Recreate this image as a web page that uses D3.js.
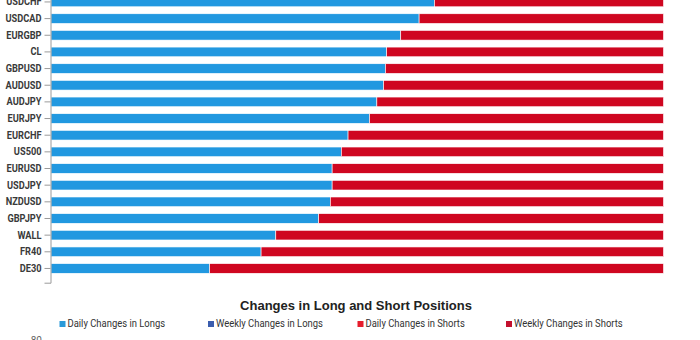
<!DOCTYPE html>
<html>
<head>
<meta charset="utf-8">
<script src="https://cdn.jsdelivr.net/npm/d3@7/dist/d3.min.js"></script>
<style>
  html, body { margin: 0; padding: 0; background: #fff; }
  svg { display: block; }
</style>
</head>
<body>
<svg id="chart" width="700" height="340"></svg>
<script>
// Net positioning per instrument (% of traders long vs short)
const instruments = ["USDCHF", "USDCAD", "EURGBP", "CL", "GBPUSD", "AUDUSD", "AUDJPY", "EURJPY",
  "EURCHF", "US500", "EURUSD", "USDJPY", "NZDUSD", "GBPJPY", "WALL", "FR40", "DE30"];
const longPct  = [62.6, 60.1, 57.1, 54.8, 54.6, 54.3, 53.2, 52.0, 48.5, 47.4, 45.9, 45.9, 45.6, 43.7, 36.7, 34.3, 25.9];
const shortPct = [37.4, 39.9, 42.9, 45.2, 45.4, 45.7, 46.8, 48.0, 51.5, 52.6, 54.1, 54.1, 54.4, 56.3, 63.3, 65.7, 74.1];

// Second chart header
const changesTitle = "Changes in Long and Short Positions";
const legendLabels = ["Daily Changes in Longs", "Weekly Changes in Longs", "Daily Changes in Shorts", "Weekly Changes in Shorts"];
const legendColors = ["#2a9ad9", "#3b5dae", "#e61d2c", "#c3102e"];
const changeTicks = [80];

const svg = d3.select("#chart");
const longColor = "#2198e0";
const shortColor = "#cf0620";

const y = d3.scaleBand()
  .domain(instruments)
  .range([-12.3, 282.7])
  .paddingInner(0.42)
  .paddingOuter(0.565);

const x = d3.scaleLinear().domain([0, 100]).range([51, 663.5]);

const rows = instruments.map((name, i) => ({ name, long: longPct[i], short: shortPct[i] }));
const stacked = d3.stack().keys(["long", "short"])(rows);

const colors = { long: longColor, short: shortColor };

svg.append("g")
  .selectAll("g")
  .data(stacked)
  .join("g")
  .attr("fill", d => colors[d.key])
  .selectAll("rect")
  .data(d => d)
  .join("rect")
  .attr("x", d => x(d[0]))
  .attr("y", d => y(d.data.name))
  .attr("width", d => x(d[1]) - x(d[0]))
  .attr("height", y.bandwidth())
  .attr("stroke", "#fff")
  .attr("stroke-width", 0.6);

// Category axis
const yAxis = svg.append("g")
  .attr("transform", "translate(50.5,0)")
  .call(d3.axisLeft(y).tickSize(6).tickSizeOuter(6).tickPadding(3));
yAxis.select(".domain").attr("stroke", "#9a9a9a");
yAxis.selectAll(".tick line").attr("stroke", "#9a9a9a");
yAxis.selectAll(".tick text")
  .attr("fill", "#3a3a3a")
  .attr("font-family", "Roboto, 'Noto Sans', sans-serif")
  .attr("font-weight", "bold")
  .attr("font-size", "11px")
  .each(function () {
    // narrow the bold labels into a condensed look
    const t = d3.select(this);
    const xPos = +t.attr("x");
    t.attr("transform", `translate(${xPos},0) scale(0.84,1) translate(${-xPos},0)`);
  });

// Title of the changes chart
svg.append("text")
  .attr("x", 356)
  .attr("y", 310)
  .attr("text-anchor", "middle")
  .attr("font-family", "'Liberation Sans', Arial, sans-serif")
  .attr("font-weight", "bold")
  .attr("font-size", "13px")
  .attr("fill", "#222")
  .text(changesTitle);

// Legend
const legendX = d3.scaleOrdinal().domain(legendLabels).range([59.5, 208, 357.5, 506]);
const legend = svg.append("g")
  .selectAll("g")
  .data(legendLabels)
  .join("g")
  .attr("transform", d => `translate(${legendX(d)},0)`);
legend.append("rect")
  .attr("x", 0).attr("y", 321)
  .attr("width", 6).attr("height", 6)
  .attr("fill", (d, i) => legendColors[i]);
legend.append("text")
  .attr("x", 8).attr("y", 327.5)
  .attr("font-family", "Roboto, 'Noto Sans', sans-serif")
  .attr("font-size", "10.5px")
  .attr("fill", "#333")
  .attr("transform", "scale(0.9,1)")
  .attr("transform-origin", "8 327.5")
  .text(d => d);

// Top of the changes chart's value axis
svg.append("g")
  .selectAll("text")
  .data(changeTicks)
  .join("text")
  .attr("x", 42)
  .attr("y", 344)
  .attr("text-anchor", "end")
  .attr("font-family", "Roboto, 'Noto Sans', sans-serif")
  .attr("font-size", "10px")
  .attr("fill", "#666")
  .text(d => d);
</script>
</body>
</html>
